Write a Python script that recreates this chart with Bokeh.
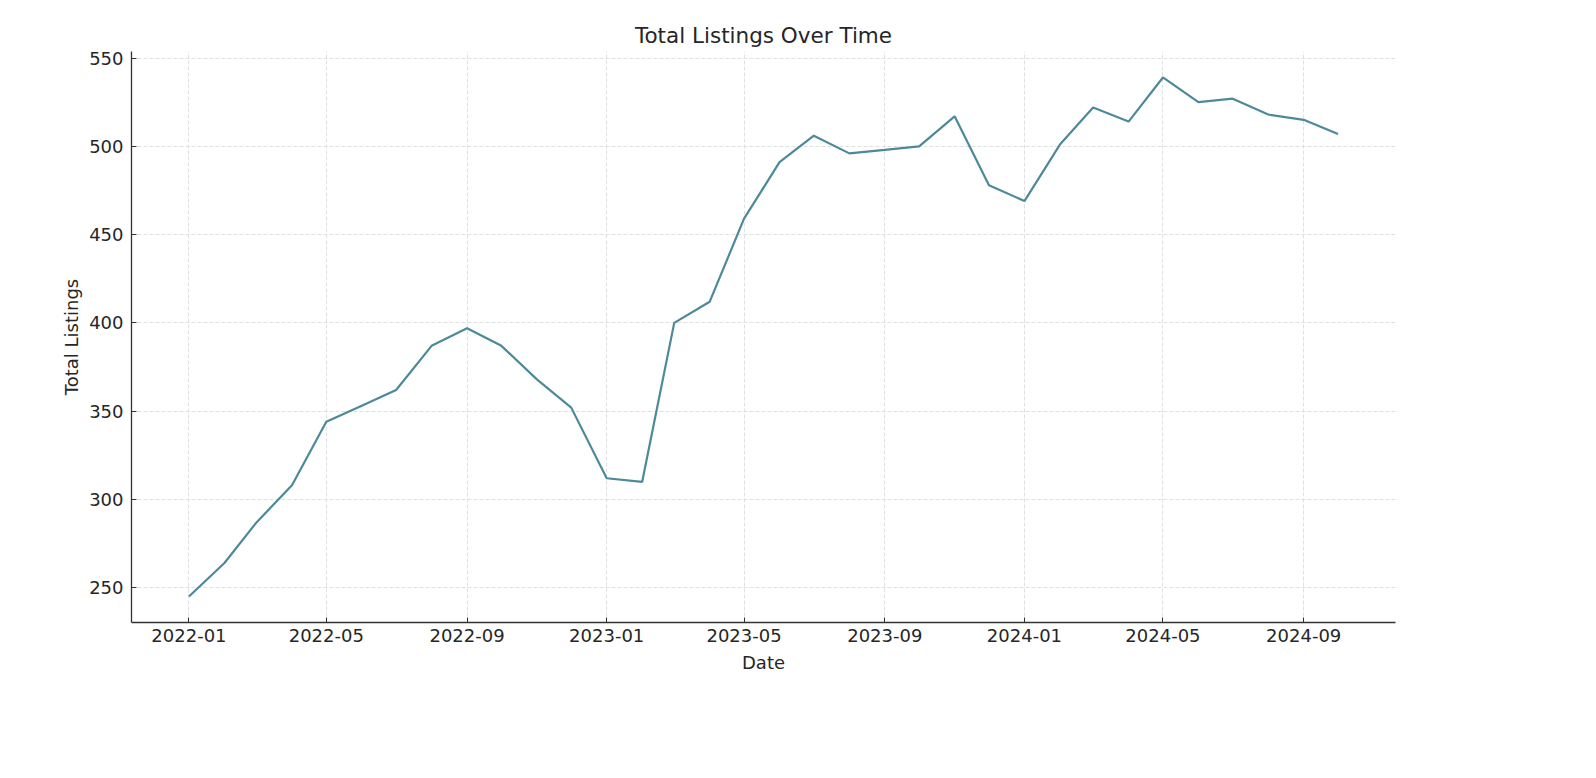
from datetime import datetime
from bokeh.plotting import figure
from bokeh.models import Range1d, FixedTicker, DatetimeTickFormatter, ColumnDataSource
from bokeh.embed import file_html
from bokeh.resources import INLINE

# ---- data ----
months = [
    "2022-01", "2022-02", "2022-03", "2022-04", "2022-05", "2022-06",
    "2022-07", "2022-08", "2022-09", "2022-10", "2022-11", "2022-12",
    "2023-01", "2023-02", "2023-03", "2023-04", "2023-05", "2023-06",
    "2023-07", "2023-08", "2023-09", "2023-10", "2023-11", "2023-12",
    "2024-01", "2024-02", "2024-03", "2024-04", "2024-05", "2024-06",
    "2024-07", "2024-08", "2024-09", "2024-10",
]
total_listings = [
    245, 264, 287, 308, 344, 353,
    362, 387, 397, 387, 368, 352,
    312, 310, 400, 412, 459, 491,
    506, 496, 498, 500, 517, 478,
    469, 501, 522, 514, 539, 525,
    527, 518, 515, 507,
]
tick_labels = ["2022-01", "2022-05", "2022-09", "2023-01", "2023-05",
               "2023-09", "2024-01", "2024-05", "2024-09"]
y_ticks = [250, 300, 350, 400, 450, 500, 550]

dates = [datetime.strptime(m, "%Y-%m") for m in months]
FONT = "DejaVu Sans"
TXT = "#262626"


def ms(d):
    return (d - datetime(1970, 1, 1)).total_seconds() * 1000.0


xs = [ms(d) for d in dates]
x_span = xs[-1] - xs[0]
y_span = max(total_listings) - min(total_listings)

p = figure(
    width=1580, height=760,
    x_axis_type="datetime",
    output_backend="svg", toolbar_location=None,
    min_border_left=131, min_border_right=185,
    min_border_top=51, min_border_bottom=138,
    title="Total Listings Over Time",
)
p.x_range = Range1d(xs[0] - 0.05 * x_span, xs[-1] + 0.05 * x_span)
p.y_range = Range1d(min(total_listings) - 0.05 * y_span,
                    max(total_listings) + 0.05 * y_span)

src = ColumnDataSource(dict(x=dates, y=total_listings))
p.line("x", "y", source=src, line_color="#4c8a9a", line_width=2.2)

# title
p.title.align = "center"
p.title.text_font = FONT
p.title.text_font_size = "21.5px"
p.title.text_font_style = "normal"
p.title.text_color = TXT
p.title.offset = 0
p.title.standoff = 8

p.outline_line_color = None
p.background_fill_color = "white"
p.border_fill_color = "white"

# axes
for ax in (p.xaxis[0], p.yaxis[0]):
    ax.axis_line_color = "#333333"
    ax.axis_line_width = 1.3
    ax.major_tick_line_color = "#333333"
    ax.major_tick_in = 5
    ax.major_tick_out = 0
    ax.minor_tick_in = 0
    ax.minor_tick_out = 0
    ax.major_label_text_font = FONT
    ax.major_label_text_font_size = "18px"
    ax.major_label_text_color = TXT
    ax.axis_label_text_font = FONT
    ax.axis_label_text_font_size = "18px"
    ax.axis_label_text_font_style = "normal"
    ax.axis_label_text_color = TXT

p.xaxis.axis_label = "Date"
p.yaxis.axis_label = "Total Listings"
p.xaxis.major_label_standoff = 6
p.yaxis.major_label_standoff = 8
p.xaxis.axis_label_standoff = 7
p.yaxis.axis_label_standoff = 4

p.xaxis.ticker = FixedTicker(ticks=[ms(datetime.strptime(t, "%Y-%m")) for t in tick_labels])
fmt = "%Y-%m"
p.xaxis.formatter = DatetimeTickFormatter(
    milliseconds=fmt, seconds=fmt, minsec=fmt, minutes=fmt, hourmin=fmt,
    hours=fmt, days=fmt, months=fmt, years=fmt)
p.yaxis.ticker = FixedTicker(ticks=y_ticks)

# grid
for g in (p.xgrid[0], p.ygrid[0]):
    g.grid_line_color = "#dcdcdc"
    g.grid_line_width = 0.9
    g.grid_line_dash = "4 2"

open("out.html", "w").write(file_html(p, INLINE))
